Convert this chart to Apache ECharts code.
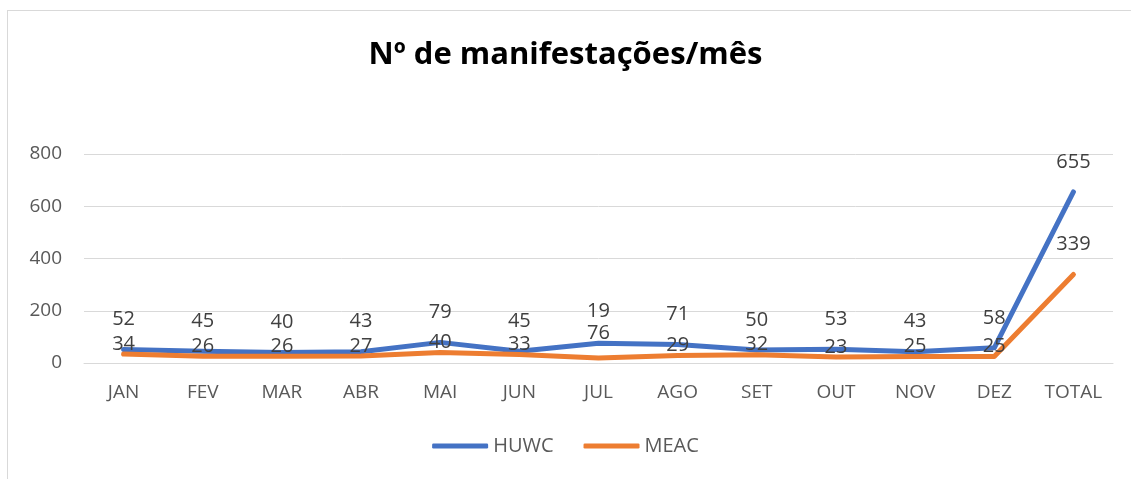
<!DOCTYPE html>
<html>
<head>
<meta charset="utf-8">
<script src="https://cdn.jsdelivr.net/npm/echarts@6/dist/echarts.min.js"></script>
<style>
html, body { margin: 0; padding: 0; background: #fff; }
#chart { width: 1131px; height: 479px; }
#frame { position: absolute; left: 7px; top: 10px; width: 1140px; height: 480px; border: 1px solid #d9d9d9; box-sizing: border-box; pointer-events: none; }
</style>
</head>
<body>
<div id="frame"></div>
<div id="chart"></div>
<script>
// meses + total
var categories = ['JAN', 'FEV', 'MAR', 'ABR', 'MAI', 'JUN', 'JUL', 'AGO', 'SET', 'OUT', 'NOV', 'DEZ', 'TOTAL'];
var huwc = [52, 45, 40, 43, 79, 45, 76, 71, 50, 53, 43, 58, 655];
var meac = [34, 26, 26, 27, 40, 33, 19, 29, 32, 23, 25, 25, 339];
var yTicks = [0, 200, 400, 600, 800];

var blue = '#4472C4';
var orange = '#ED7D31';

// rótulos movidos à mão no original (JUL trocado, DEZ e TOTAL)
var huwcLabelFix = { 6: { distance: 0 }, 11: { offset: [-8, 0] } };
var meacLabelFix = { 6: { distance: 37 }, 11: { offset: [-6, 0] }, 12: { distance: 20 } };

function buildData(values, fix) {
	var out = [];
	for (var i = 0; i < values.length; i++) {
		if (fix[i]) {
			out.push({ value: values[i], label: fix[i] });
		} else {
			out.push(values[i]);
		}
	}
	return out;
}

function seriesLabel(dist) {
	return {
		show: true,
		position: 'top',
		distance: dist,
		fontFamily: 'Open Sans',
		fontSize: 20,
		color: '#404040'
	};
}

var chart = echarts.init(document.getElementById('chart'));
chart.setOption({
	animation: false,
	title: {
		text: 'Nº de manifestações/mês',
		left: 'center',
		top: 35,
		textStyle: { fontFamily: 'Open Sans', fontWeight: 'bold', fontSize: 31, color: '#000' }
	},
	legend: {
		bottom: 18,
		left: 'center',
		itemWidth: 56,
		itemHeight: 5,
		itemGap: 30,
		icon: 'roundRect',
		textStyle: { fontFamily: 'Open Sans', fontSize: 20, color: '#595959' },
		data: ['HUWC', 'MEAC']
	},
	grid: { left: 84, right: 18, top: 154, bottom: 116, containLabel: false },
	xAxis: {
		type: 'category',
		data: categories,
		boundaryGap: true,
		axisLine: { lineStyle: { color: '#d9d9d9', width: 1 } },
		axisTick: { show: false },
		axisLabel: { fontFamily: 'Open Sans', fontSize: 19, color: '#595959', margin: 20 }
	},
	yAxis: {
		type: 'value',
		min: yTicks[0],
		max: yTicks[yTicks.length - 1],
		interval: 200,
		axisLine: { show: false },
		axisTick: { show: false },
		axisLabel: { fontFamily: 'Open Sans', fontSize: 19, color: '#595959', margin: 22 },
		splitLine: { lineStyle: { color: '#d9d9d9', width: 1 } }
	},
	series: [
		{
			name: 'HUWC',
			type: 'line',
			data: buildData(huwc, huwcLabelFix),
			symbol: 'circle',
			symbolSize: 0,
			lineStyle: { color: blue, width: 5, cap: 'round', join: 'round' },
			itemStyle: { color: blue },
			label: seriesLabel(20),
			labelLayout: { hideOverlap: false }
		},
		{
			name: 'MEAC',
			type: 'line',
			data: buildData(meac, meacLabelFix),
			symbol: 'circle',
			symbolSize: 0,
			lineStyle: { color: orange, width: 5, cap: 'round', join: 'round' },
			itemStyle: { color: orange },
			label: seriesLabel(0),
			labelLayout: { hideOverlap: false }
		}
	]
});
</script>
</body>
</html>
